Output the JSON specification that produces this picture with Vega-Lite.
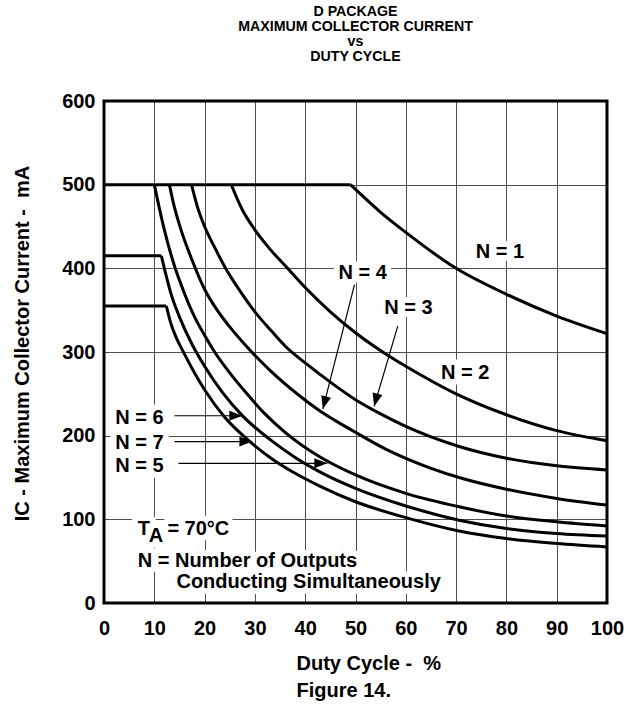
{
"$schema":"https://vega.github.io/schema/vega-lite/v6.json",
"width":503,"height":502,"autosize":"none",
"padding":{"left":104,"top":101,"right":31,"bottom":102},
"background":"white",
"config":{"font":"Liberation Sans","view":{"stroke":null}},
"title":{"text":["D PACKAGE","MAXIMUM COLLECTOR CURRENT","vs","DUTY CYCLE"],"font":"Liberation Sans","fontSize":14.2,"fontWeight":"bold","color":"black","lineHeight":15,"anchor":"middle","frame":"group","offset":27},
"datasets":{
"curves":[
{"s":"N1f","x":0,"y":500},{"s":"N1f","x":49,"y":500},
{"s":"N1","x":49,"y":500},{"s":"N1","x":55,"y":467},{"s":"N1","x":60,"y":443},{"s":"N1","x":70,"y":400},{"s":"N1","x":80,"y":369},{"s":"N1","x":90,"y":343},{"s":"N1","x":100,"y":322},
{"s":"N2","x":25.3,"y":500},{"s":"N2","x":27.5,"y":470},{"s":"N2","x":30,"y":446},{"s":"N2","x":33,"y":423},{"s":"N2","x":36.5,"y":400},{"s":"N2","x":40,"y":377},{"s":"N2","x":45,"y":348},{"s":"N2","x":50,"y":323},{"s":"N2","x":56.7,"y":295},{"s":"N2","x":60,"y":283},{"s":"N2","x":70,"y":250},{"s":"N2","x":80,"y":225},{"s":"N2","x":90,"y":206},{"s":"N2","x":100,"y":194},
{"s":"N3","x":17.4,"y":500},{"s":"N3","x":18.5,"y":475},{"s":"N3","x":20,"y":450},{"s":"N3","x":22,"y":425},{"s":"N3","x":24,"y":402},{"s":"N3","x":26.7,"y":376},{"s":"N3","x":30,"y":348},{"s":"N3","x":33.3,"y":325},{"s":"N3","x":36.2,"y":306},{"s":"N3","x":40,"y":287},{"s":"N3","x":45,"y":264},{"s":"N3","x":50,"y":243},{"s":"N3","x":55,"y":226},{"s":"N3","x":60,"y":211},{"s":"N3","x":70.6,"y":187},{"s":"N3","x":80,"y":173},{"s":"N3","x":90,"y":164},{"s":"N3","x":100,"y":159},
{"s":"N4","x":13,"y":500},{"s":"N4","x":13.8,"y":478},{"s":"N4","x":15,"y":452},{"s":"N4","x":17.5,"y":410},{"s":"N4","x":20,"y":375},{"s":"N4","x":22.5,"y":350},{"s":"N4","x":25,"y":330},{"s":"N4","x":28.9,"y":303},{"s":"N4","x":33,"y":278},{"s":"N4","x":38.8,"y":248},{"s":"N4","x":42.8,"y":230},{"s":"N4","x":50,"y":204},{"s":"N4","x":56,"y":184},{"s":"N4","x":60,"y":173},{"s":"N4","x":70.6,"y":150},{"s":"N4","x":80,"y":136},{"s":"N4","x":90,"y":125},{"s":"N4","x":100,"y":117},
{"s":"N5","x":10,"y":500},{"s":"N5","x":11,"y":472},{"s":"N5","x":12,"y":446},{"s":"N5","x":14,"y":403},{"s":"N5","x":16,"y":370},{"s":"N5","x":18,"y":342},{"s":"N5","x":20,"y":320},{"s":"N5","x":22,"y":300},{"s":"N5","x":25,"y":275},{"s":"N5","x":28,"y":253},{"s":"N5","x":32,"y":226},{"s":"N5","x":36,"y":204},{"s":"N5","x":42.8,"y":175},{"s":"N5","x":50,"y":153},{"s":"N5","x":60,"y":131},{"s":"N5","x":70.6,"y":115},{"s":"N5","x":80,"y":104},{"s":"N5","x":90,"y":97},{"s":"N5","x":100,"y":92},
{"s":"N6f","x":0,"y":415},{"s":"N6f","x":11.4,"y":415},
{"s":"N6","x":11.4,"y":415},{"s":"N6","x":12.5,"y":388},{"s":"N6","x":13.3,"y":370},{"s":"N6","x":15,"y":342},{"s":"N6","x":17.6,"y":308},{"s":"N6","x":20,"y":283},{"s":"N6","x":23.5,"y":252},{"s":"N6","x":27.5,"y":224},{"s":"N6","x":33.3,"y":194},{"s":"N6","x":38,"y":174},{"s":"N6","x":42.8,"y":157},{"s":"N6","x":50,"y":137},{"s":"N6","x":60,"y":116},{"s":"N6","x":70.6,"y":99},{"s":"N6","x":80,"y":89},{"s":"N6","x":90,"y":83},{"s":"N6","x":100,"y":80},
{"s":"N7f","x":0,"y":355},{"s":"N7f","x":12.4,"y":355},
{"s":"N7","x":12.4,"y":355},{"s":"N7","x":13.2,"y":336},{"s":"N7","x":14.3,"y":318},{"s":"N7","x":15.7,"y":301},{"s":"N7","x":18,"y":275},{"s":"N7","x":20.1,"y":254},{"s":"N7","x":24,"y":222},{"s":"N7","x":28.6,"y":195},{"s":"N7","x":33,"y":174},{"s":"N7","x":38,"y":155},{"s":"N7","x":42.8,"y":140},{"s":"N7","x":50,"y":121},{"s":"N7","x":60,"y":102},{"s":"N7","x":70.6,"y":86},{"s":"N7","x":80,"y":77},{"s":"N7","x":90,"y":71},{"s":"N7","x":100,"y":67}
],
"labels":[
{"t":"N = 1","x":73.9,"y":412.3},
{"t":"N = 4","x":46.6,"y":386.9},
{"t":"N = 3","x":55.7,"y":345.2},
{"t":"N = 2","x":67.0,"y":267.9},
{"t":"N = 6","x":2.25,"y":214.3},
{"t":"N = 7","x":2.25,"y":184.5},
{"t":"N = 5","x":2.25,"y":156.3},
{"t":"T","x":6.7,"y":81},
{"t":"A","x":8.9,"y":73},
{"t":"= 70°C","x":12.6,"y":81},
{"t":"N = Number of Outputs","x":6.7,"y":43.2},
{"t":"Conducting Simultaneously","x":14.4,"y":17.5}
],
"arrows":[
{"x":49.8,"y":380.6,"x2":43.5,"y2":231.8},
{"x":58.4,"y":331,"x2":53.7,"y2":235},
{"x":14.0,"y":223.8,"x2":27.5,"y2":223.8},
{"x":14.0,"y":192.9,"x2":29.5,"y2":192.9},
{"x":14.8,"y":167,"x2":44.4,"y2":167}
],
"tips":[
{"x":27.5,"y":223.8,"d":"h"},{"x":29.5,"y":192.9,"d":"h"},{"x":44.4,"y":167,"d":"h"},
{"x":43.5,"y":231.8,"d":"s"},{"x":53.7,"y":235,"d":"s"}
],
"frame":[{"x":0,"y":0,"x2":100,"y2":600}]
},
"encoding":{
"x":{"field":"x","type":"quantitative","scale":{"domain":[0,100],"nice":false,"zero":false},
 "axis":{"values":[0,10,20,30,40,50,60,70,80,90,100],"grid":true,"gridColor":"#4d4d4d","gridWidth":1,"domain":false,"ticks":false,"tickSize":0,"labelPadding":15,"labelFont":"Liberation Sans","labelFontSize":20,"labelFontWeight":"bold","labelColor":"black","labelFlush":false,"labelOverlap":false,
 "title":["Duty Cycle - \u00a0%","Figure 14."],"titleFont":"Liberation Sans","titleFontSize":20,"titleFontWeight":"bold","titleColor":"black","titleAlign":"left","titleX":192,"titleY":50,"titleBaseline":"top","titleLineHeight":27}},
"y":{"field":"y","type":"quantitative","scale":{"domain":[0,600],"nice":false},
 "axis":{"values":[0,100,200,300,400,500,600],"grid":true,"gridColor":"#4d4d4d","gridWidth":1,"domain":false,"ticks":false,"tickSize":0,"labelPadding":9,"labelFont":"Liberation Sans","labelFontSize":20,"labelFontWeight":"bold","labelColor":"black","labelFlush":false,"labelOverlap":false,
 "title":"IC - Maximum Collector Current - \u00a0mA","titleFont":"Liberation Sans","titleFontSize":20,"titleFontWeight":"bold","titleColor":"black","titleAngle":-90,"titleX":-82,"titleY":242,"titleBaseline":"middle","titleAlign":"center"}}
},
"layer":[
{"data":{"name":"labels"},"mark":{"type":"text","align":"left","baseline":"alphabetic","font":"Liberation Sans","fontSize":20,"fontWeight":"bold","fill":"white","stroke":"white","strokeWidth":12,"strokeJoin":"round"},"encoding":{"text":{"field":"t"}}},
{"data":{"name":"curves"},"mark":{"type":"line","color":"black","strokeWidth":3,"interpolate":"monotone","strokeJoin":"round"},"encoding":{"detail":{"field":"s"}}},
{"data":{"name":"arrows"},"mark":{"type":"rule","color":"black","strokeWidth":1.2},"encoding":{"x2":{"field":"x2"},"y2":{"field":"y2"}}},
{"data":{"name":"tips"},"transform":[{"filter":"datum.d == 'h'"}],"mark":{"type":"point","shape":"M0,0L-2,-0.77L-2,0.77Z","filled":true,"color":"black","opacity":1,"size":169,"angle":0,"strokeWidth":0}},
{"data":{"name":"tips"},"transform":[{"filter":"datum.d == 's'"}],"mark":{"type":"point","shape":"M0,0L-2,-0.77L-2,0.77Z","filled":true,"color":"black","opacity":1,"size":169,"angle":105,"strokeWidth":0}},
{"data":{"name":"labels"},"mark":{"type":"text","align":"left","baseline":"alphabetic","font":"Liberation Sans","fontSize":20,"fontWeight":"bold","color":"black"},"encoding":{"text":{"field":"t"}}},
{"data":{"name":"frame"},"mark":{"type":"rect","filled":false,"fill":null,"stroke":"black","strokeWidth":3},"encoding":{"x2":{"field":"x2"},"y2":{"field":"y2"}}}
]
}
